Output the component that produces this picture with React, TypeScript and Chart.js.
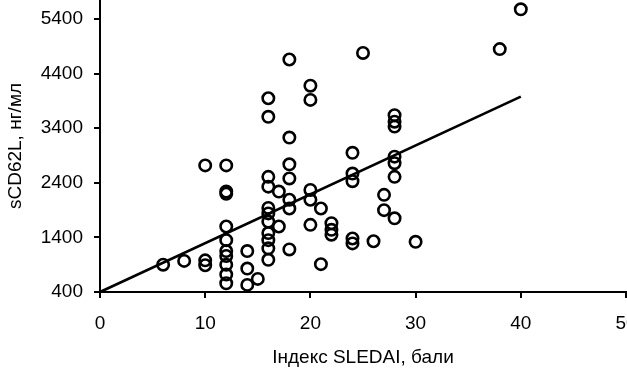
import React, { useEffect, useRef } from "react";
import { Chart, registerables } from "chart.js";

Chart.register(...registerables);

// SLEDAI index (x) and sCD62L, ng/ml (y) for each patient
const sledai: number[] = [
  6, 8, 10, 10, 10,
  12, 12, 12, 12, 12, 12, 12, 12, 12, 12,
  14, 14, 14, 15,
  16, 16, 16, 16, 16, 16, 16, 16, 16, 16, 16,
  17, 17,
  18, 18, 18, 18, 18, 18, 18,
  20, 20, 20, 20, 20,
  21, 21, 22, 22, 22,
  24, 24, 24, 24, 24,
  25, 26, 27, 27,
  28, 28, 28, 28, 28, 28, 28,
  30, 38, 40,
];
const scd62l: number[] = [
  900, 970, 2720, 980, 890,
  2720, 2240, 2200, 1600, 1350, 1150, 1060, 900, 720, 560,
  1150, 830, 530, 640,
  3950, 3610, 2510, 2330, 1940, 1840, 1690, 1480, 1350, 1200, 990,
  2240, 1600,
  4660, 3230, 2740, 2480, 2090, 1930, 1180,
  4180, 3920, 2270, 2090, 1630,
  1930, 910, 1660, 1540, 1450,
  2950, 2570, 2430, 1380, 1290,
  4780, 1330, 2180, 1900,
  3640, 3520, 3430, 2880, 2760, 2510, 1750,
  1320, 4850, 5580,
];

// regression line end points
const fitX: number[] = [0, 40];
const fitY: number[] = [400, 3980];

const xTicks: number[] = [0, 10, 20, 30, 40, 50];
const yTicks: number[] = [400, 1400, 2400, 3400, 4400, 5400];

const xTitle = "Індекс SLEDAI, бали";
const yTitle = "sCD62L, нг/мл";

const FONT = "'Liberation Sans', Arial, sans-serif";

export default function App() {
  const ref = useRef<HTMLCanvasElement | null>(null);

  useEffect(() => {
    if (!ref.current) return;
    const points = sledai.map((x, i) => ({ x, y: scd62l[i] }));
    const line = fitX.map((x, i) => ({ x, y: fitY[i] }));
    const chart = new Chart(ref.current, {
      type: "scatter",
      data: {
        datasets: [
          {
            type: "line",
            data: line,
            borderColor: "#000",
            borderWidth: 2.6,
            pointRadius: 0,
            fill: false,
            clip: false,
          } as any,
          {
            data: points,
            pointStyle: "circle",
            pointRadius: 5.7,
            pointBorderWidth: 2.6,
            borderColor: "#000",
            pointBorderColor: "#000",
            backgroundColor: "rgba(0,0,0,0)",
            pointBackgroundColor: "rgba(0,0,0,0)",
            clip: false,
          } as any,
        ],
      },
      options: {
        responsive: false,
        animation: false,
        devicePixelRatio: 1,
        layout: { padding: 0, autoPadding: false },
        plugins: {
          legend: { display: false },
          tooltip: { enabled: false },
        },
        scales: {
          x: {
            type: "linear",
            min: 0,
            max: 50,
            afterBuildTicks: (s: any) => {
              s.ticks = xTicks.map((v) => ({ value: v }));
            },
            afterFit: (s: any) => {
              s.height = 77;
              s.paddingLeft = 0;
              s.paddingRight = 10;
            },
            border: { display: true, color: "#000", width: 2 },
            grid: {
              display: true,
              drawOnChartArea: false,
              drawTicks: true,
              tickLength: 6,
              color: "#000",
              lineWidth: 2,
            },
            ticks: {
              color: "#000",
              padding: 14,
              maxRotation: 0,
              callback: (v: any) => String(v),
              font: { family: FONT, size: 19 },
            },
            title: {
              display: true,
              text: xTitle,
              color: "#000",
              padding: { top: 0, bottom: 0 },
              font: { family: FONT, size: 19 },
            },
          },
          y: {
            type: "linear",
            min: 400,
            max: 5750,
            afterBuildTicks: (s: any) => {
              s.ticks = yTicks.map((v) => ({ value: v }));
            },
            afterFit: (s: any) => {
              s.width = 100;
              s.paddingTop = 0;
              s.paddingBottom = 0;
            },
            border: { display: true, color: "#000", width: 2 },
            grid: {
              display: true,
              drawOnChartArea: false,
              drawTicks: true,
              tickLength: 6,
              color: "#000",
              lineWidth: 2,
            },
            ticks: {
              color: "#000",
              padding: 11,
              callback: (v: any) => String(v),
              font: { family: FONT, size: 19 },
            },
            title: {
              display: true,
              text: yTitle,
              color: "#000",
              padding: { top: 4, bottom: 0 },
              font: { family: FONT, size: 19 },
            },
          },
        },
      },
    } as any);
    return () => chart.destroy();
  }, []);

  return (
    <div
      style={{
        position: "fixed",
        left: 0,
        top: 0,
        width: 627,
        height: 369,
        overflow: "hidden",
        background: "#fff",
      }}
    >
      <canvas ref={ref} width={636} height={369} style={{ display: "block" }} />
    </div>
  );
}
